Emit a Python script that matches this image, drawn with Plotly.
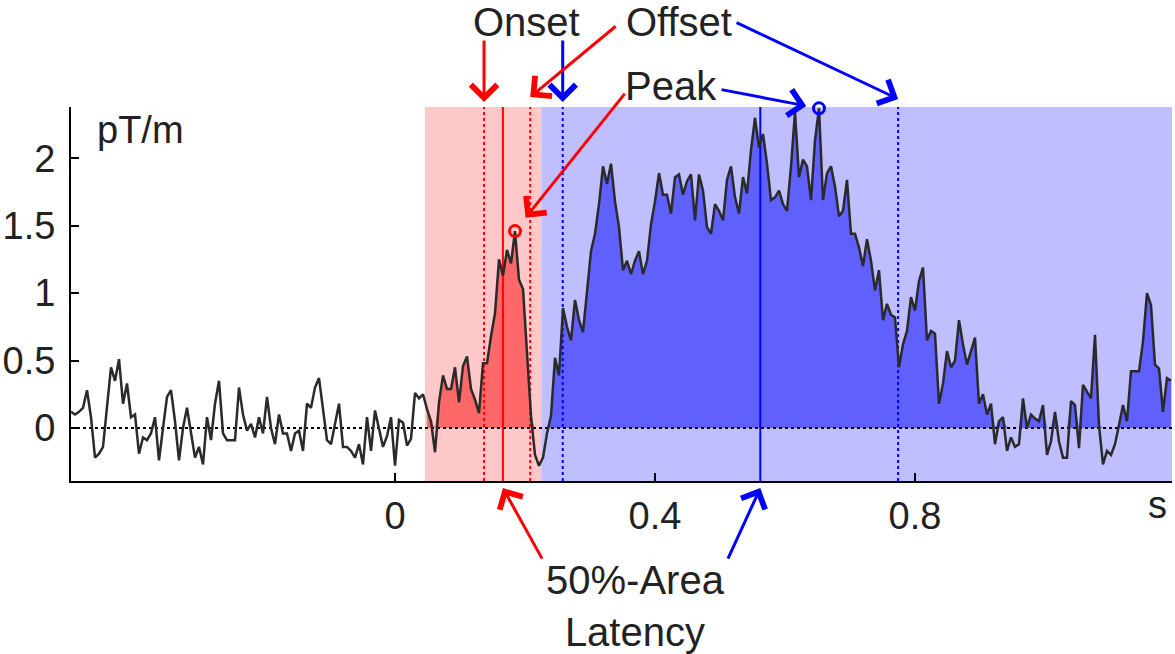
import numpy as np
import plotly.graph_objects as go

# waveform samples (pT/m), regular sampling
T0 = -0.4985
DT = 0.006154
SIG_PRE1 = [0.12, 0.10, 0.12, 0.15, 0.28, 0.08, -0.22, -0.19, -0.14, 0.15,
            0.45, 0.35, 0.51, 0.18, 0.33, 0.08, 0.10, -0.19, -0.07, -0.09,
            -0.04, 0.08, -0.24, 0.00, 0.23, 0.28, 0.05, -0.24, 0.00, 0.15,
            -0.02, -0.22, -0.14, -0.27, 0.08, -0.09, 0.18, 0.35, -0.04, -0.09,
            -0.09]
SIG_PRE2 = [-0.09, 0.30, 0.10, -0.02, 0.03, -0.07, 0.08, -0.04, 0.23, 0.00,
            -0.12, 0.10, -0.04, -0.04, -0.17, -0.04, -0.02, -0.17, 0.18, 0.15,
            0.30, 0.37, 0.15, -0.09, -0.12, 0.03, 0.18, -0.14, -0.14, -0.17,
            -0.22, -0.12, -0.27, 0.08, -0.17, 0.13, 0.00, -0.14, -0.06, 0.08]
SIG_EARLY = [-0.28, 0.06, 0.04, -0.13, -0.08, 0.26, 0.22, 0.25, 0.14, 0.05,
             -0.18, 0.19, 0.39, 0.29, 0.29, 0.45, 0.19, 0.46, 0.53, 0.29,
             0.21, 0.11, 0.48, 0.48, 0.68, 0.85, 1.25, 1.13, 1.32, 1.22,
             1.46, 1.10, 1.03, 0.53, 0.09, -0.20, -0.28, -0.22]
SIG_LATE1 = [-0.04, 0.09, 0.52, 0.39, 0.89, 0.75, 0.65, 0.95, 0.80, 0.71,
             1.02, 1.31, 1.44, 1.66, 1.94, 1.81, 1.96, 1.68, 1.49, 1.17,
             1.24, 1.14, 1.24, 1.31, 1.14, 1.24, 1.51, 1.68, 1.89, 1.73,
             1.73, 1.59, 1.86, 1.88, 1.73, 1.83, 1.88, 1.54, 1.88, 1.76]
SIG_LATE2 = [1.49, 1.44, 1.66, 1.61, 1.54, 1.84, 1.94, 1.71, 1.59, 1.86,
             1.74, 2.06, 2.30, 2.08, 2.18, 1.96, 1.69, 1.71, 1.76, 1.66,
             1.61, 1.94, 2.34, 1.86, 1.99, 1.94, 1.69, 2.13, 2.37, 1.69,
             1.89, 1.94, 1.79, 1.57, 1.61, 1.84, 1.44, 1.44, 1.34, 1.20]
SIG_LATE3 = [1.40, 1.24, 1.02, 1.17, 0.80, 0.92, 0.84, 0.82, 0.45, 0.62,
             0.72, 0.97, 0.87, 1.09, 1.19, 0.65, 0.72, 0.70, 0.18, 0.33,
             0.57, 0.45, 0.50, 0.80, 0.62, 0.47, 0.57, 0.67, 0.18, 0.25,
             0.10, 0.18, -0.12, 0.05, 0.08, -0.17, -0.07, -0.14, -0.12]
SIG_POST = [0.22, 0.00, 0.10, 0.07, 0.05, 0.17, -0.20, -0.10, 0.12, -0.10,
            -0.22, -0.22, 0.20, 0.17, -0.15, 0.32, 0.27, 0.22, 0.69, 0.02,
            -0.27, -0.17, -0.20, -0.12, 0.02, 0.17, 0.05, 0.42, 0.42, 0.42,
            0.64, 1.00, 0.91, 0.47, 0.44, 0.12, 0.37, 0.35]

X_RANGE = [-0.4985, 1.1954]
Y_RANGE = [-0.393, 2.38]
XTICKS = [0, 0.4, 0.8]
YTICKS = [0, 0.5, 1, 1.5, 2]

# analysis windows and latencies (s)
RED_WIN = [0.046, 0.225]
BLUE_WIN = [0.225, 1.1954]
RED_ONSET, RED_LAT, RED_OFFSET = 0.137, 0.166, 0.208
BLUE_ONSET, BLUE_LAT, BLUE_OFFSET = 0.258, 0.562, 0.774

RED, BLUE = "#FF0000", "#0000FF"
RED_BG, BLUE_BG = "#FFC8C8", "#BFBFFF"
RED_FILL, BLUE_FILL = "#FF6868", "#6060FF"
TRACE = "#2A2A2A"
TXT = "#222222"
FONT = "Liberation Sans, Arial, sans-serif"

signal = np.array(SIG_PRE1 + SIG_PRE2 + SIG_EARLY + SIG_LATE1 + SIG_LATE2
                  + SIG_LATE3 + SIG_POST)
t = T0 + DT * np.arange(len(signal))


def in_win(win):
    return (t >= win[0]) & (t <= win[1])


def peak(win):
    idx = np.where(in_win(win))[0]
    i = idx[np.argmax(signal[idx])]
    return t[i], signal[i]


fig = go.Figure()

for win, bg, col in [(RED_WIN, RED_BG, RED_FILL), (BLUE_WIN, BLUE_BG, BLUE_FILL)]:
    fig.add_shape(type="rect", xref="x", yref="paper", x0=win[0], x1=win[1],
                  y0=0, y1=1, fillcolor=bg, line_width=0, layer="below")
    m = in_win(win)
    fig.add_trace(go.Scatter(x=t[m], y=np.clip(signal[m], 0, None), mode="lines",
                             fill="tozeroy", fillcolor=col,
                             line=dict(width=0), hoverinfo="skip"))

fig.add_trace(go.Scatter(x=X_RANGE, y=[0, 0], mode="lines",
                         line=dict(color="black", width=2, dash="dot")))

for v, col, dash in [(RED_ONSET, RED, "dot"), (RED_LAT, RED, "solid"),
                     (RED_OFFSET, RED, "dot"), (BLUE_ONSET, BLUE, "dot"),
                     (BLUE_LAT, BLUE, "solid"), (BLUE_OFFSET, BLUE, "dot")]:
    fig.add_trace(go.Scatter(x=[v, v], y=Y_RANGE, mode="lines",
                             line=dict(color=col, width=2, dash=dash)))

fig.add_trace(go.Scatter(x=t, y=signal, mode="lines",
                         line=dict(color=TRACE, width=2.5)))

rp = peak(RED_WIN)
bp = peak(BLUE_WIN)
for (px, py), col in [(rp, RED), (bp, BLUE)]:
    fig.add_trace(go.Scatter(x=[px], y=[py], mode="markers", cliponaxis=False,
                             marker=dict(symbol="circle-open", size=11, color=col,
                                         line=dict(width=3, color=col))))


def arrow(x, y, ax, ay, col, yref="paper", standoff=0):
    fig.add_annotation(x=x, y=y, xref="x", yref=yref, ax=ax, ay=ay, text="",
                       showarrow=True, arrowhead=4, arrowsize=1.7, arrowwidth=3,
                       arrowcolor=col, standoff=standoff)


arrow(RED_ONSET, 1.0134, 0, -63, RED)
arrow(BLUE_ONSET, 1.0134, 0, -63, BLUE)
arrow(RED_OFFSET, 1.0267, 87, -72, RED)
arrow(BLUE_OFFSET, 1.0214, -163, -77, BLUE)
arrow(bp[0], bp[1], -99, -19, BLUE, yref="y", standoff=13)
arrow(rp[0], rp[1], 111, -139, RED, yref="y", standoff=17)
arrow(RED_LAT, -0.019, 40, 72, RED)
arrow(BLUE_LAT, -0.019, -33, 72, BLUE)

for text, x, y in [("Onset", 0.4133, 1.2273),
                   ("Offset", 0.5522, 1.2273),
                   ("Peak", 0.545, 1.0561),
                   ("50%-Area<br>Latency", 0.5123, -0.334)]:
    fig.add_annotation(x=x, y=y, xref="paper", yref="paper", text=text,
                       showarrow=False, xanchor="center", yanchor="middle",
                       font=dict(size=40, color=TXT, family=FONT))

fig.add_annotation(x=0.0218, y=0.9385, xref="paper", yref="paper", text="pT/m",
                   showarrow=False, xanchor="left", yanchor="middle",
                   font=dict(size=38, color=TXT, family=FONT))
fig.add_annotation(x=0.9864, y=-0.0642, xref="paper", yref="paper", text="s",
                   showarrow=False, xanchor="center", yanchor="middle",
                   font=dict(size=38, color=TXT, family=FONT))

fig.update_layout(
    width=1175, height=654, showlegend=False,
    margin=dict(l=71, r=3, t=107, b=173),
    plot_bgcolor="white", paper_bgcolor="white",
    font=dict(family=FONT, color=TXT, size=38),
    xaxis=dict(range=X_RANGE, showgrid=False, zeroline=False, showline=True,
               linecolor="black", linewidth=2, ticks="inside", ticklen=8,
               tickwidth=2, tickcolor="black", tickvals=XTICKS,
               ticktext=[f"{v:g}" for v in XTICKS], automargin=False),
    yaxis=dict(range=Y_RANGE, showgrid=False, zeroline=False, showline=True,
               linecolor="black", linewidth=2, ticks="inside", ticklen=8,
               tickwidth=2, tickcolor="black", tickvals=YTICKS,
               ticktext=[f"{v:g}" for v in YTICKS], ticklabelstandoff=6,
               automargin=False),
)

# drop the browser's default page margin so the figure sits at (0, 0)
fig.write_html("out.html", config={"displayModeBar": False},
               post_script="document.body.style.margin = '0';")
